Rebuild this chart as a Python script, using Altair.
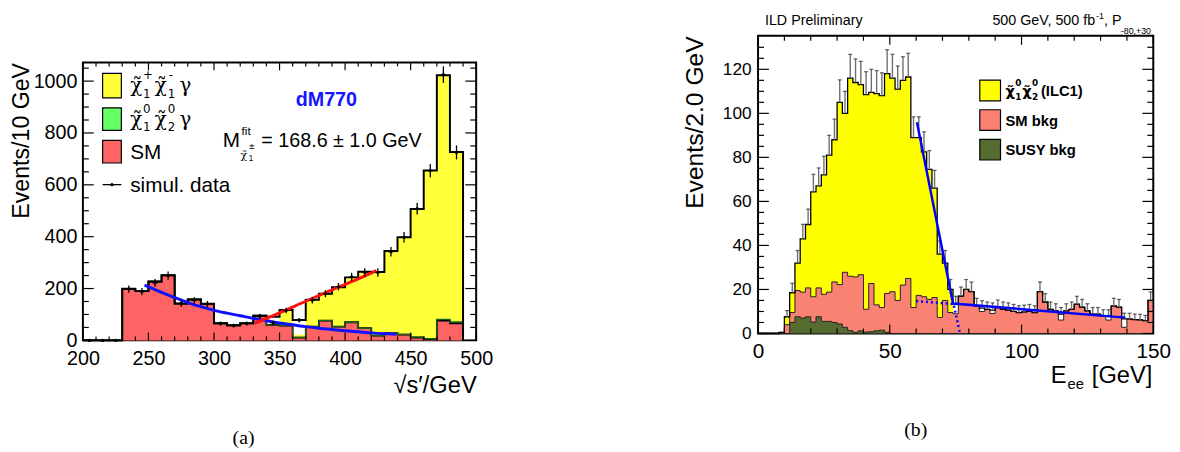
import altair as alt
import pandas as pd

FONT = "Liberation Sans"
GREEK = "DejaVu Sans"

# ---------------- Panel (a) data ----------------
A_LOW = [200, 210, 220, 230, 240, 250, 260, 270, 280, 290, 300, 310, 320, 330, 340,
         350, 360, 370, 380, 390, 400, 410, 420, 430, 440, 450, 460, 470, 480]
A_BIN = 10
A_SM = [0, 0, 0, 199, 190, 227, 251, 142, 158, 141, 66, 58, 66, 95, 60,
        57, 11, 53, 76, 53, 70, 47, 18, 28, 22, 11, 5, 76, 66]
A_N2 = [0, 0, 0, 0, 0, 0, 0, 0, 0, 0, 0, 0, 0, 0, 0,
        0, 0, 0, 0, 0, 0, 0, 0, 0, 1, 2, 1, 5, 5]
A_C1 = [0, 0, 0, 0, 0, 0, 0, 0, 0, 0, 0, 0, 0, 0, 0,
        60, 10.5, 104, 104, 152, 173, 218, 246, 317, 375, 494, 649, 942, 656]
A_TOTAL = [0, 0, 0, 199, 190, 227, 251, 142, 158, 141, 66, 58, 66, 95, 91,
           117, 79, 157, 180, 205, 243, 265, 264, 345, 398, 507, 655, 1023, 727]
A_DATA = [0, 0, 0, 198, 188, 222, 250, 142, 155, 140, 65, 57, 65, 93, 68,
          115, 78, 155, 180, 207, 245, 262, 262, 342, 398, 508, 655, 1025, 725]
A_ERR = [0, 0, 0, 14, 14, 15, 16, 12, 12.5, 12, 8, 7.5, 8, 9.6, 8.2,
         10.7, 8.8, 12.5, 13.4, 14.4, 15.7, 16.2, 16.2, 18.5, 20, 22.5, 25.6, 32, 27]
A_BKG_FIT_X = [247, 260, 270, 280, 290, 300, 310, 320, 330, 340, 350, 360, 370,
               380, 390, 400, 410, 420, 430, 439]
A_BKG_FIT_Y = [213, 185, 165, 146, 130, 116, 105, 95, 85, 76, 67, 60, 53,
               47, 42, 37, 33, 29, 26, 24]
A_SIG_FIT_X = [331, 350, 370, 390, 410, 424]
A_SIG_FIT_Y = [66, 106, 151, 195, 237, 269]
A_XTICKS = [200, 250, 300, 350, 400, 450, 500]
A_YTICKS = [0, 200, 400, 600, 800, 1000]

# ---------------- Panel (b) data ----------------
B_LOW = list(range(0, 150, 2))
B_BIN = 2
B_SUSY = [0, 0, 0, 0, 0, 0, 5, 7.6, 7, 7.6, 5.2, 7.6, 5.5, 5.5, 5, 4.3, 2.8, 1.3, 0.5, 1.2,
          0.6, 0.8, 1.2, 1.5, 0.5] + [0] * 50
B_SM = [0, 0, 0, 0, 0.5, 4, 4.5, 11.9, 11.8, 13.1, 11.5, 13.1, 12.3, 13.3, 18.4, 17.9, 25,
        24.7, 25.2, 25.5, 10.4, 21.9, 11.8, 10.3, 17.7,
        19, 15, 22, 25, 11.8, 17.3, 16.7, 15.5, 16.3, 7.3, 15, 9.5, 9, 17, 20, 19, 12.5,
        10, 11, 9.1, 11.8, 11, 10.6, 10, 9.5, 9.8, 10, 9.5, 19, 14.3, 11, 10.3, 6.1, 10.3,
        11, 13.3, 12, 10.3, 8.8, 8.8, 8, 6.1, 12.5, 12, 2.8, 6.6, 6.3, 6.2, 5.8, 15]
B_SIG = [0, 0, 0, 0, 0, 3.6, 9, 12.5, 24.2, 28.8, 47.6, 46.3, 54.2, 62.2, 64.6, 82.8,
         72.2, 90, 88.3, 86.3, 97.5, 86.8, 96, 96.2, 99.8, 97, 96, 93, 91.5, 77.2, 71.7,
         65.8, 59, 49.7, 28.7, 17, 10.5] + [0] * 38
B_TOTAL = [0, 0, 0, 0, 0.5, 7.6, 18.5, 32, 43, 49.5, 64.3, 67, 72, 81, 88, 105, 100, 116,
           114, 113, 108.5, 109.5, 109, 108, 118, 116, 111, 115, 116.5, 89, 89, 82.5, 74.5,
           66, 36, 32, 20, 13.3, 17, 20, 19, 12.5, 11.5, 11, 10.6, 11.8, 11, 10.6, 10, 9.5,
           9.8, 10, 9.5, 19, 14.3, 11, 10.3, 8.8, 10.3, 11, 13.3, 12, 10.3, 8.8, 8.8, 8, 8,
           12.5, 12, 6.6, 6.6, 6.3, 6.2, 5.8, 15]
B_ERR = [0, 0, 0, 0, 0, 2.8, 4.3, 5.7, 6.6, 7, 8, 8.2, 8.5, 9, 9.4, 10.2, 10, 10.8, 10.7,
         10.6, 10.4, 10.5, 10.4, 10.4, 10.9, 10.8, 10.5, 10.7, 10.8, 9.4, 9.4, 9.1, 8.6, 8.1,
         6, 5.7, 4.5, 3.6, 4.1, 4.5, 4.4, 3.5, 3.4, 3.3, 3.3, 3.4, 3.3, 3.3, 3.2, 3.1, 3.1,
         3.2, 3.1, 4.4, 3.8, 3.3, 3.2, 3, 3.2, 3.3, 3.6, 3.5, 3.2, 3, 3, 2.8, 2.8, 3.5, 3.5,
         2.6, 2.6, 2.5, 2.5, 2.4, 3.9]
B_FIT_X = [60.3, 74, 139.4]
B_FIT_Y = [96, 13.6, 7.2]
B_DOT_X = [60, 74.2, 76.6]
B_DOT_Y = [14.7, 13.4, 0.3]
B_XTICKS = [0, 50, 100, 150]
B_YTICKS = [0, 20, 40, 60, 80, 100, 120]

for arr in (A_SM, A_N2, A_C1, A_TOTAL, A_DATA, A_ERR):
    assert len(arr) == len(A_LOW)
for arr in (B_SUSY, B_SM, B_SIG, B_TOTAL, B_ERR):
    assert len(arr) == len(B_LOW), len(arr)

ONE = pd.DataFrame({"k": [0]})


def step_line(low, vals, width, drop=True):
    rows = [{"x": x, "y": v, "i": k} for k, (x, v) in enumerate(zip(low, vals))]
    rows.append({"x": low[-1] + width, "y": vals[-1], "i": len(low)})
    if drop:
        rows.append({"x": low[-1] + width, "y": 0, "i": len(low) + 1})
    return pd.DataFrame(rows)


def step_area(low, bot, top, width):
    rows = [{"x": x, "bot": b, "top": t} for x, b, t in zip(low, bot, top)]
    rows.append({"x": low[-1] + width, "bot": bot[-1], "top": top[-1]})
    return pd.DataFrame(rows)


def txt(s, x, y, size, font=FONT, color="black", weight="normal", align="left",
        baseline="alphabetic"):
    return alt.Chart(ONE).mark_text(
        text=s, font=font, fontSize=size, color=color, fontWeight=weight, align=align,
        baseline=baseline
    ).encode(x=alt.value(x), y=alt.value(y))


def box(x1, x2, y1, y2, fill, sw=1.2):
    return alt.Chart(ONE).mark_rect(fill=fill, stroke="black", strokeWidth=sw).encode(
        x=alt.value(x1), x2=alt.value(x2), y=alt.value(y1), y2=alt.value(y2))


def frame_ticks(xs, ys, xscale, yscale, xaxis, yaxis, W, H, xmaj, xmin, ymaj, ymin):
    layers = []
    for vals, ln in ((xs[0], xmaj), (xs[1], xmin)):
        d = pd.DataFrame({"x": vals})
        layers.append(alt.Chart(d).mark_rule(color="black", strokeWidth=1.2).encode(
            x=alt.X("x:Q", scale=xscale, axis=xaxis), y=alt.value(H), y2=alt.value(H - ln)))
        layers.append(alt.Chart(d).mark_rule(color="black", strokeWidth=1.2).encode(
            x=alt.X("x:Q", scale=xscale, axis=xaxis), y=alt.value(0), y2=alt.value(ln)))
    for vals, ln in ((ys[0], ymaj), (ys[1], ymin)):
        d = pd.DataFrame({"y": vals})
        layers.append(alt.Chart(d).mark_rule(color="black", strokeWidth=1.2).encode(
            y=alt.Y("y:Q", scale=yscale, axis=yaxis), x=alt.value(0), x2=alt.value(ln)))
        layers.append(alt.Chart(d).mark_rule(color="black", strokeWidth=1.2).encode(
            y=alt.Y("y:Q", scale=yscale, axis=yaxis), x=alt.value(W), x2=alt.value(W - ln)))
    return layers


# ======================= Panel (a) =======================
WA, HA = 399, 282
xa = alt.Scale(domain=[200, 500], nice=False, zero=False)
ya = alt.Scale(domain=[0, 1072], nice=False)
XA_AXIS = alt.Axis(
    values=A_XTICKS, ticks=False, domain=False, grid=False, labelFlush=False,
    labelFont=FONT, labelFontSize=20, labelPadding=8, labelColor="black", format="d",
    title="√s′/GeV", titleFont=FONT, titleFontSize=24, titleFontWeight="normal",
    titleAnchor="end", titlePadding=6, titleColor="black")
XA = alt.X("x:Q", scale=xa, axis=XA_AXIS)
YA_AXIS = alt.Axis(
    values=A_YTICKS, ticks=False, domain=False, grid=False, labelFlush=False,
    labelFont=FONT, labelFontSize=20, labelPadding=6, labelColor="black", format="d",
    title="Events/10 GeV", titleFont=FONT, titleFontSize=23.5, titleFontWeight="normal",
    titleAnchor="end", titlePadding=0, titleColor="black")

sm_top_a = A_SM
n2_top_a = [s + n for s, n in zip(A_SM, A_N2)]
c1_top_a = [s + n + c for s, n, c in zip(A_SM, A_N2, A_C1)]

a_layers = []
a_layers.append(alt.Chart(step_area(A_LOW, n2_top_a, c1_top_a, A_BIN)).mark_area(
    interpolate="step-after", color="#ffff3a").encode(
    x=XA, y=alt.Y("top:Q", scale=ya, axis=YA_AXIS), y2="bot:Q"))
a_layers.append(alt.Chart(step_area(A_LOW, sm_top_a, n2_top_a, A_BIN)).mark_area(
    interpolate="step-after", color="#66ff66").encode(
    x=XA, y=alt.Y("top:Q", scale=ya, axis=YA_AXIS), y2="bot:Q"))
a_layers.append(alt.Chart(step_area(A_LOW, [0] * len(A_LOW), sm_top_a, A_BIN)).mark_area(
    interpolate="step-after", color="#ff6464").encode(
    x=XA, y=alt.Y("top:Q", scale=ya, axis=YA_AXIS), y2="bot:Q"))
for vals, col, sw in ((sm_top_a, "black", 1.8), (n2_top_a, "#1d5d1d", 1.4),
                      (A_TOTAL, "black", 2.0)):
    a_layers.append(alt.Chart(step_line(A_LOW, vals, A_BIN)).mark_line(
        interpolate="step-after", color=col, strokeWidth=sw).encode(
        x=XA, y=alt.Y("y:Q", scale=ya, axis=YA_AXIS), order="i:Q"))

# fits
a_layers.append(alt.Chart(pd.DataFrame({"x": A_BKG_FIT_X, "y": A_BKG_FIT_Y})).mark_line(
    color="#1010ff", strokeWidth=3, interpolate="monotone").encode(
    x=XA, y=alt.Y("y:Q", scale=ya, axis=YA_AXIS)))
a_layers.append(alt.Chart(pd.DataFrame({"x": A_SIG_FIT_X, "y": A_SIG_FIT_Y})).mark_line(
    color="#ff1010", strokeWidth=3, interpolate="monotone").encode(
    x=XA, y=alt.Y("y:Q", scale=ya, axis=YA_AXIS)))

# simulated data
a_pts = pd.DataFrame({"x": [l + A_BIN / 2 for l in A_LOW], "y": A_DATA,
                      "lo": [d - e for d, e in zip(A_DATA, A_ERR)],
                      "hi": [d + e for d, e in zip(A_DATA, A_ERR)]})
a_layers.append(alt.Chart(a_pts).mark_rule(color="black", strokeWidth=1.3).encode(
    x=XA, y=alt.Y("lo:Q", scale=ya, axis=YA_AXIS), y2="hi:Q"))
a_layers.append(alt.Chart(a_pts).mark_tick(orient="horizontal", size=6, thickness=1.2,
                                           color="black").encode(
    x=XA, y=alt.Y("y:Q", scale=ya, axis=YA_AXIS)))
a_layers.append(alt.Chart(a_pts).mark_circle(size=10, color="black", opacity=1).encode(
    x=XA, y=alt.Y("y:Q", scale=ya, axis=YA_AXIS)))

a_layers += frame_ticks(
    (A_XTICKS, [v for v in range(200, 500, 10) if v % 50]),
    (A_YTICKS, [v for v in range(50, 1072, 50) if v % 200]),
    xa, ya, XA_AXIS, YA_AXIS, WA, HA, 8, 4, 11, 6)

# legend (a)
GS = "DejaVu Serif"
a_layers += [
    box(20, 39, 11, 36, "#ffff3a"), box(20, 39, 46, 69, "#66ff66"), box(20, 39, 79, 102, "#ff6464"),
    alt.Chart(ONE).mark_rule(color="black", strokeWidth=1.3).encode(
        x=alt.value(20), x2=alt.value(39), y=alt.value(124)),
    alt.Chart(ONE).mark_circle(size=12, color="black", opacity=1).encode(
        x=alt.value(29.5), y=alt.value(124)),
    txt("χ̃", 48, 30, 20, GS), txt("+", 61, 17, 12, GREEK), txt("1", 61, 36, 12, GREEK),
    txt("χ̃", 73, 30, 20, GS), txt("-", 87, 17, 12, GREEK), txt("1", 86, 36, 12, GREEK),
    txt("γ", 98, 30, 20, GS),
    txt("χ̃", 48, 64, 20, GS), txt("0", 61, 51, 12, GREEK), txt("1", 61, 70, 12, GREEK),
    txt("χ̃", 73, 64, 20, GS), txt("0", 86, 51, 12, GREEK), txt("2", 86, 70, 12, GREEK),
    txt("γ", 98, 64, 20, GS),
    txt("SM", 48, 98, 21), txt("simul. data", 48, 131, 21),
    txt("dM770", 247, 44, 20, weight="bold", color="#1414ff", align="center"),
    txt("M", 142, 86, 21), txt("fit", 161, 74, 12), txt("χ̃", 160, 98, 11, GS),
    txt("±", 168, 88, 8, GREEK), txt("1", 168, 100, 8, GREEK),
    txt("= 168.6 ± 1.0 GeV", 181, 86, 20),
    txt("(a)", 163, 387, 20, "Liberation Serif", align="center"),
]
panel_a = alt.layer(*a_layers).properties(width=WA, height=HA)
spacer = alt.Chart(ONE).mark_point(opacity=0).encode(
    x=alt.value(0), y=alt.value(0)).properties(
    width=WA, height=24, view=alt.ViewBackground(stroke="transparent"))
left = alt.vconcat(spacer, panel_a, spacing=0)

# ======================= Panel (b) =======================
WB, HB = 401, 302
xb = alt.Scale(domain=[0, 150], nice=False, zero=False)
yb = alt.Scale(domain=[0, 135.2], nice=False)
XB_AXIS = alt.Axis(
    values=B_XTICKS, ticks=False, domain=False, grid=False, labelFlush=False,
    labelFont=FONT, labelFontSize=21, labelPadding=7, labelColor="black", format="d",
    title=None)
XB = alt.X("x:Q", scale=xb, axis=XB_AXIS)
YB_AXIS = alt.Axis(
    values=B_YTICKS, ticks=False, domain=False, grid=False, labelFlush=False,
    labelFont=FONT, labelFontSize=17.5, labelPadding=7, labelColor="black", format="d",
    title="Events/2.0 GeV", titleFont=FONT, titleFontSize=25, titleFontWeight="normal",
    titleAnchor="end", titlePadding=15, titleColor="black")

susy_top = B_SUSY
sm_top_b = [a + b for a, b in zip(B_SUSY, B_SM)]
sig_top = [a + b + c for a, b, c in zip(B_SUSY, B_SM, B_SIG)]

b_layers = []
b_layers.append(alt.Chart(step_area(B_LOW, sm_top_b, sig_top, B_BIN)).mark_area(
    interpolate="step-after", color="#ffff00").encode(
    x=XB, y=alt.Y("top:Q", scale=yb, axis=YB_AXIS), y2="bot:Q"))
b_layers.append(alt.Chart(step_area(B_LOW, susy_top, sm_top_b, B_BIN)).mark_area(
    interpolate="step-after", color="#f98272").encode(
    x=XB, y=alt.Y("top:Q", scale=yb, axis=YB_AXIS), y2="bot:Q"))
b_layers.append(alt.Chart(step_area(B_LOW, [0] * len(B_LOW), susy_top, B_BIN)).mark_area(
    interpolate="step-after", color="#566b2f").encode(
    x=XB, y=alt.Y("top:Q", scale=yb, axis=YB_AXIS), y2="bot:Q"))
for vals, col, sw in ((susy_top, "#222222", 1.0), (sm_top_b, "#222222", 1.0),
                      (B_TOTAL, "black", 1.3)):
    b_layers.append(alt.Chart(step_line(B_LOW, vals, B_BIN)).mark_line(
        interpolate="step-after", color=col, strokeWidth=sw).encode(
        x=XB, y=alt.Y("y:Q", scale=yb, axis=YB_AXIS), order="i:Q"))

b_err = pd.DataFrame({"x": [l + B_BIN / 2 for l in B_LOW], "y": B_TOTAL,
                      "hi": [t + e for t, e in zip(B_TOTAL, B_ERR)], "e": B_ERR})
b_err = b_err[b_err["e"] > 0]
b_layers.append(alt.Chart(b_err).mark_rule(color="#6e6e6e", strokeWidth=1.4).encode(
    x=XB, y=alt.Y("y:Q", scale=yb, axis=YB_AXIS), y2="hi:Q"))
b_layers.append(alt.Chart(b_err).mark_tick(orient="horizontal", size=4, thickness=1.2,
                                           color="#222222").encode(
    x=XB, y=alt.Y("hi:Q", scale=yb, axis=YB_AXIS)))

b_layers.append(alt.Chart(pd.DataFrame({"x": B_FIT_X, "y": B_FIT_Y})).mark_line(
    color="#0000ff", strokeWidth=2.5).encode(x=XB, y=alt.Y("y:Q", scale=yb, axis=YB_AXIS)))
b_layers.append(alt.Chart(pd.DataFrame({"x": B_DOT_X, "y": B_DOT_Y})).mark_line(
    color="#0000ff", strokeWidth=2.5, strokeDash=[2, 3]).encode(
    x=XB, y=alt.Y("y:Q", scale=yb, axis=YB_AXIS)))

b_layers += frame_ticks(
    (B_XTICKS, [v for v in range(10, 150, 10) if v % 50]),
    (B_YTICKS, [v for v in range(5, 135, 5) if v % 20]),
    xb, yb, XB_AXIS, YB_AXIS, WB, HB, 9, 5, 11, 6)

b_layers += [
    box(225, 246, 45, 66, "#ffff00"), box(225, 246, 75, 96, "#f98272"),
    box(225, 246, 105, 126, "#566b2f"),
    txt("χ̃", 251, 61, 15, GREEK, weight="bold"), txt("0", 261, 51, 9, GREEK, weight="bold"),
    txt("1", 261, 65, 9, GREEK, weight="bold"),
    txt("χ̃", 268, 61, 15, GREEK, weight="bold"), txt("0", 278, 51, 9, GREEK, weight="bold"),
    txt("2", 278, 65, 9, GREEK, weight="bold"),
    txt("(ILC1)", 287, 61, 15, weight="bold"),
    txt("SM bkg", 251, 91, 15, weight="bold"),
    txt("SUSY bkg", 251, 121, 15, weight="bold"),
    txt("ILD Preliminary", 7, -11, 14.5),
    txt("500 GeV, 500 fb", 342, -11, 14.5, align="right"),
    txt("-1", 343, -17, 9), txt(", P", 351, -11, 14.5),
    txt("-80,+30", 368, -2, 9),
    txt("[GeV]", 400, 352, 24, align="right"),
    txt("E", 297, 352, 24), txt("ee", 314, 358, 15),
    txt("(b)", 160, 406, 20, "Liberation Serif", align="center"),
]
panel_b = alt.layer(*b_layers).properties(width=WB, height=HB)

chart = alt.hconcat(left, panel_b, spacing=190).properties(
    padding={"left": 0, "top": 0, "right": 0, "bottom": 0}
).configure_view(stroke="black", strokeWidth=2)

chart.save("out.html", embed_options={"renderer": "svg", "actions": False})
